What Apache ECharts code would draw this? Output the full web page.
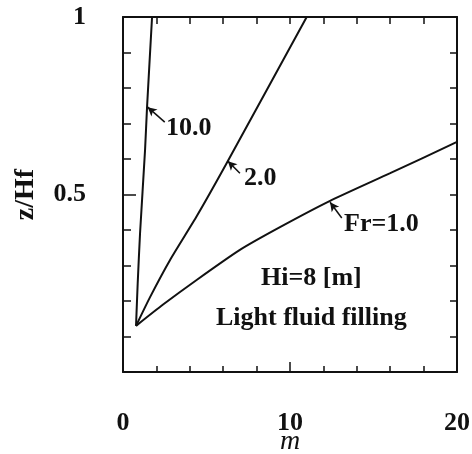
<!DOCTYPE html>
<html>
<head>
<meta charset="utf-8">
<script src="https://cdn.jsdelivr.net/npm/echarts@6/dist/echarts.min.js"></script>
<style>
  html, body { margin: 0; padding: 0; background: #fff; }
  #chart { width: 472px; height: 454px; }
</style>
</head>
<body>
<div id="chart"></div>
<script>
// curves: [m, z/Hf]
const fr10 = [[0.78, 0.13], [0.88, 0.25], [1.02, 0.39], [1.32, 0.625], [1.44, 0.746], [1.74, 1.0]]
const fr2 = [[0.78, 0.13], [1.62, 0.211], [2.81, 0.315], [4.43, 0.44], [6.23, 0.59], [11.0, 1.0]]
const fr1 = [[0.78, 0.13], [2.4, 0.19], [4.43, 0.26], [7.0, 0.344], [9.4, 0.408], [12.4, 0.482], [16.0, 0.56], [20.0, 0.648]]

// arrows pointing at the curves: [tail, tip]
const arrows = [
    [[2.5, 0.704], [1.48, 0.746]],
    [[7.0, 0.56], [6.28, 0.594]],
    [[13.1, 0.434], [12.4, 0.478]]
]

const serif = '"Liberation Serif", "DejaVu Serif", serif'
const ink = '#111'

const chart = echarts.init(document.getElementById('chart'))

const lineSeries = (name, data) => ({
    name: name,
    type: 'line',
    data: data,
    symbol: 'none',
    smooth: 0.2,
    lineStyle: { color: ink, width: 2 },
    silent: true
})

// 坐标轴公共样式：内刻度 + 次刻度
const frameAxis = (major, minor) => ({
    axisLine: { show: true, onZero: false, lineStyle: { color: ink, width: 2 } },
    axisTick: { show: true, inside: true, length: major, lineStyle: { color: ink, width: 1.5 } },
    minorTick: { show: true, splitNumber: 5, length: minor, lineStyle: { color: ink, width: 1.5 } },
    splitLine: { show: false },
    minorSplitLine: { show: false }
})

const labelStyle = { fontFamily: serif, fontWeight: 'bold', fontSize: 26, color: ink }
const textFont = 'bold 26px ' + serif

const option = {
    animation: false,
    backgroundColor: '#fff',
    grid: { left: 123, top: 17, right: 15, bottom: 82, outerBoundsMode: 'none', containLabel: false },
    xAxis: [
        Object.assign(frameAxis(10, 6), {
            type: 'value',
            min: 0,
            max: 20,
            interval: 10,
            name: 'm',
            nameLocation: 'middle',
            nameGap: 56,
            nameMoveOverlap: false,
            nameTextStyle: { fontFamily: serif, fontStyle: 'italic', fontSize: 28, color: ink },
            axisLabel: Object.assign({ margin: 38 }, labelStyle)
        }),
        Object.assign(frameAxis(7, 7), {
            type: 'value',
            position: 'top',
            min: 0,
            max: 20,
            interval: 10,
            axisLabel: { show: false }
        })
    ],
    yAxis: [
        Object.assign(frameAxis(13, 8), {
            type: 'value',
            min: 0,
            max: 1,
            interval: 0.5,
            name: 'z/Hf',
            nameLocation: 'middle',
            nameGap: 83,
            nameMoveOverlap: false,
            nameRotate: 90,
            nameTextStyle: { fontFamily: serif, fontWeight: 'bold', fontSize: 28, color: ink },
            axisLabel: Object.assign({
                margin: 37,
                formatter: v => (v === 0 ? '' : String(v))
            }, labelStyle)
        }),
        Object.assign(frameAxis(7, 7), {
            type: 'value',
            position: 'right',
            min: 0,
            max: 1,
            interval: 0.5,
            axisLabel: { show: false }
        })
    ],
    series: [
        lineSeries('10.0', fr10),
        lineSeries('2.0', fr2),
        Object.assign(lineSeries('1.0', fr1), {
            markLine: {
                silent: true,
                animation: false,
                symbolSize: [7, 9],
                label: { show: false },
                lineStyle: { color: ink, width: 1.5, type: 'solid' },
                data: arrows.map(a => [
                    { coord: a[0], symbol: 'none' },
                    { coord: a[1], symbol: 'arrow' }
                ])
            }
        })
    ],
    graphic: [
        { type: 'text', x: 166, y: 128, style: { text: '10.0', font: textFont, fill: ink, verticalAlign: 'middle' } },
        { type: 'text', x: 244, y: 178, style: { text: '2.0', font: textFont, fill: ink, verticalAlign: 'middle' } },
        { type: 'text', x: 344, y: 224, style: { text: 'Fr=1.0', font: textFont, fill: ink, verticalAlign: 'middle' } },
        { type: 'text', x: 261, y: 278, style: { text: 'Hi=8 [m]', font: textFont, fill: ink, verticalAlign: 'middle' } },
        { type: 'text', x: 216, y: 318, style: { text: 'Light fluid filling', font: textFont, fill: ink, verticalAlign: 'middle' } }
    ]
}

chart.setOption(option)
</script>
</body>
</html>
